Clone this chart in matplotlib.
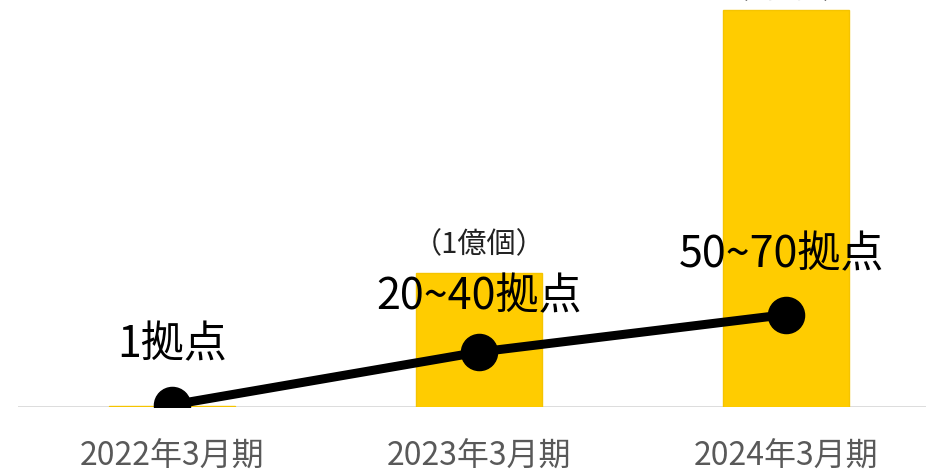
import matplotlib
matplotlib.use('Agg')
import matplotlib.pyplot as plt

plt.rcParams['font.family'] = ['Noto Sans CJK JP', 'DejaVu Sans']

# データ
categories = ['2022年3月期', '2023年3月期', '2024年3月期']
bar_values = [0.01, 1.0, 2.96]          # 億個
bar_labels = ['', '（1億個）', '（3億個）']
line_values = [0.015, 0.41, 0.69]
line_labels = ['1拠点', '20~40拠点', '50~70拠点']

fig = plt.figure(figsize=(9.26, 4.72), dpi=100)
ax = fig.add_axes([18 / 926, 65 / 472, 908 / 926, 407 / 472])

x = list(range(len(categories)))
ax.bar(x, bar_values, width=0.41, color='#FFCC00', edgecolor='#F5C400',
       linewidth=1, zorder=2)
ax.plot(x, line_values, color='black', linewidth=6.5, marker='o',
        markersize=26, zorder=3)

ax.axhline(0, color='#D9D9D9', linewidth=2, zorder=1)

ax.set_xlim(-0.5, 2.455)
ax.set_ylim(0, 407 / 134)

# 棒のラベル
ax.text(1, 1.21, bar_labels[1], ha='center', va='center', fontsize=21,
        color='#222222', zorder=4)
ax.text(2, 3.11, bar_labels[2], ha='center', va='center', fontsize=21,
        color='#222222', zorder=4, clip_on=False)

# 折れ線のラベル
label_pos = [(0, 0.46), (1.0, 0.82), (1.985, 1.13)]
for (lx, ly), t in zip(label_pos, line_labels):
    ax.text(lx, ly, t, ha='center', va='center', fontsize=31,
            color='black', zorder=4)

ax.set_xticks(x)
ax.set_xticklabels(categories, fontsize=23, color='#595959')
ax.tick_params(axis='x', length=0, pad=24)
ax.set_yticks([])
for s in ax.spines.values():
    s.set_visible(False)

fig.savefig('out.png', dpi=100)
